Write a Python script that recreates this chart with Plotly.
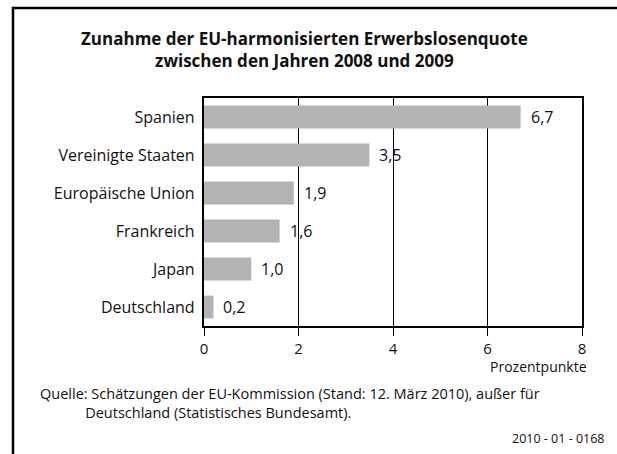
import plotly.graph_objects as go

categories = ["Spanien", "Vereinigte Staaten", "Europäische Union", "Frankreich", "Japan", "Deutschland"]
values = [6.7, 3.5, 1.9, 1.6, 1.0, 0.2]
tick_vals = [0, 2, 4, 6, 8]
tick_text = ["0", "2", "4", "6", "8"]

title_text = "<b>Zunahme der EU-harmonisierten Erwerbslosenquote<br>zwischen den Jahren 2008 und 2009</b>"
source_text = "Quelle: Schätzungen der EU-Kommission (Stand: 12. März 2010), außer für<br>            Deutschland (Statistisches Bundesamt)."
code_text = "2010 - 01 - 0168"

W, H = 617, 454
L, R, T, B = 204, 35, 98, 128
pw, ph = W - L - R, H - T - B

def px_x(x):
    return (x - L) / pw

def px_y(y):
    return (H - B - y) / ph

FONT = "Open Sans"

fig = go.Figure()
fig.add_trace(go.Bar(
    y=categories, x=values, orientation="h",
    marker=dict(color="#b3b3b3", line=dict(width=0)),
    width=0.6, hoverinfo="skip",
))

annotations = []
for c, v in zip(categories, values):
    annotations.append(dict(
        x=v, y=c, xref="x", yref="y", text=f"{v:.1f}".replace(".", ","),
        showarrow=False, xanchor="left", xshift=8,
        font=dict(family=FONT, size=16, color="#111"),
    ))
annotations.append(dict(
    x=px_x(W / 2 - 4), y=px_y(49), xref="paper", yref="paper", text=title_text,
    showarrow=False, xanchor="center", yanchor="middle", align="center",
    font=dict(family=FONT, size=17, color="#111"),
))
annotations.append(dict(
    x=px_x(589), y=px_y(366), xref="paper", yref="paper", text="Prozentpunkte",
    showarrow=False, xanchor="right", yanchor="middle",
    font=dict(family=FONT, size=14, color="#111"),
))
annotations.append(dict(
    x=px_x(38), y=px_y(403), xref="paper", yref="paper", text=source_text,
    showarrow=False, xanchor="left", yanchor="middle", align="left",
    font=dict(family=FONT, size=14.5, color="#111"),
))
annotations.append(dict(
    x=px_x(607), y=px_y(438), xref="paper", yref="paper", text=code_text,
    showarrow=False, xanchor="right", yanchor="middle",
    font=dict(family=FONT, size=12.5, color="#111"),
))

shapes = [
    dict(type="rect", xref="paper", yref="paper",
         x0=px_x(13), x1=px_x(W + 40), y0=px_y(8), y1=px_y(H + 40),
         line=dict(color="black", width=2.5), fillcolor="rgba(0,0,0,0)", layer="below"),
]

fig.update_layout(
    width=W, height=H, autosize=False,
    margin=dict(l=L, r=R, t=T, b=B),
    paper_bgcolor="white", plot_bgcolor="white",
    showlegend=False, bargap=0.4,
    annotations=annotations, shapes=shapes,
    font=dict(family=FONT, color="#111"),
    xaxis=dict(
        range=[0, 8], tickvals=tick_vals, ticktext=tick_text,
        showgrid=True, gridcolor="black", gridwidth=1,
        ticks="outside", ticklen=8, tickcolor="black", tickwidth=1,
        showline=True, linecolor="black", linewidth=2, mirror=True,
        zeroline=False, tickfont=dict(family=FONT, size=15, color="#111"),
        fixedrange=True,
    ),
    yaxis=dict(
        categoryorder="array", categoryarray=categories[::-1],
        showgrid=False, ticks="", ticklen=0,
        showline=True, linecolor="black", linewidth=2, mirror=True,
        tickfont=dict(family=FONT, size=16, color="#111"),
        ticksuffix=" ", fixedrange=True,
    ),
)

fig.write_html(
    "out.html",
    config={"displayModeBar": False},
    post_script=(
        "document.documentElement.style.overflow='hidden';"
        "document.body.style.margin='0';"
        "document.body.style.padding='0';"
        "document.body.style.overflow='hidden';"
    ),
)
